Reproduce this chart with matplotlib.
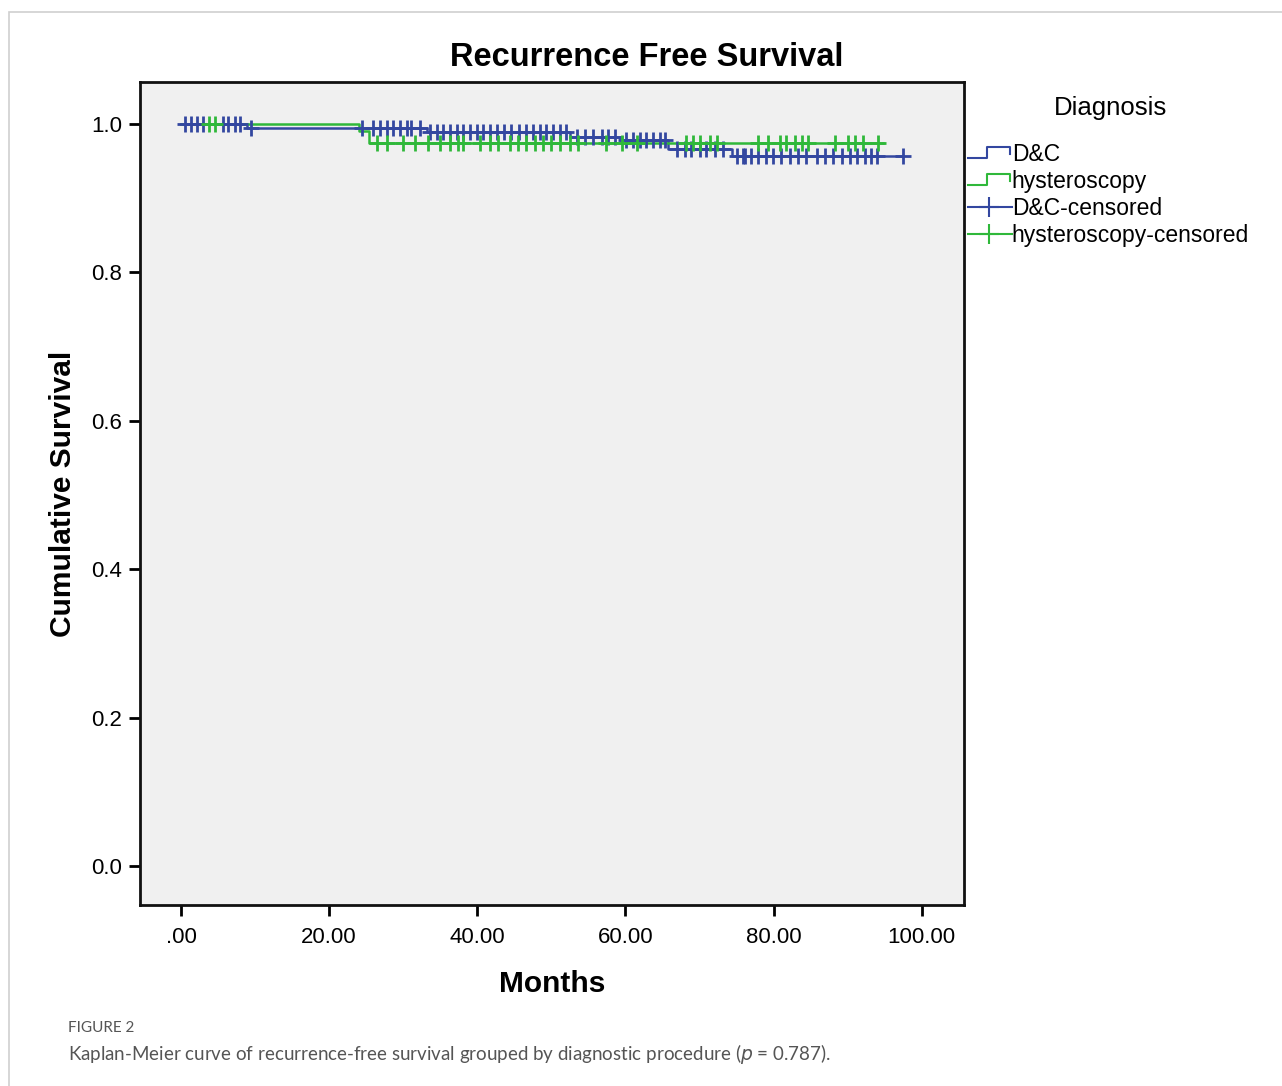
import numpy as np
import matplotlib
matplotlib.use("Agg")
import matplotlib.pyplot as plt
from matplotlib.lines import Line2D
from matplotlib.legend_handler import HandlerBase
from matplotlib.patches import Rectangle

plt.rcParams["font.family"] = ["Liberation Sans", "DejaVu Sans"]

# ---- Kaplan-Meier data (months, cumulative survival) ----
groups = ["D&C", "hysteroscopy"]

dc_event_times = [8.9, 33.2, 52.5, 59.2, 65.7, 74.4]
dc_event_surv = [0.995, 0.989, 0.983, 0.978, 0.967, 0.957]
dc_end = 97.5
dc_censored = [0.5, 1.3, 2.1, 3.0, 5.7, 6.3, 7.3, 8.0, 9.4,
               24.4, 25.9, 26.9, 27.8, 28.6, 29.6, 30.5, 31.1, 32.3,
               33.6, 34.5, 35.4, 36.3, 37.2, 38.1, 39.0, 39.9, 40.8, 41.7,
               42.6, 43.6, 44.6, 45.6, 46.6, 47.5, 48.4, 49.3, 50.2, 51.1, 52.0,
               53.4, 54.5, 55.6, 56.8, 57.7, 58.6,
               60.1, 61.0, 61.9, 62.8, 63.7, 64.6, 65.3,
               66.9, 68.0, 68.9, 70.0, 70.9, 72.1, 73.2,
               75.0, 75.9, 76.1, 77.0, 77.9, 79.0, 79.9, 81.0, 82.2, 83.3, 84.4,
               85.8, 86.9, 88.0, 89.2, 90.3, 91.2, 92.3, 93.2, 93.9, 97.5]

hy_event_times = [24.0, 25.4]
hy_event_surv = [0.990, 0.975]
hy_end = 94.7
hy_censored = [3.8, 4.6,
               26.4, 27.8, 30.0, 31.6, 33.4, 35.0, 36.3, 37.4, 38.1, 40.4,
               41.7, 42.8, 44.4, 45.5, 46.6, 47.8, 48.9, 50.0, 51.1, 52.5,
               53.6, 57.4, 59.5, 61.5, 68.2, 69.1, 70.0, 71.4, 72.3,
               77.9, 79.2, 80.8, 81.7, 82.9, 83.8, 84.6, 88.3, 90.1, 91.0,
               92.1, 94.1]

x_ticks = [0, 20, 40, 60, 80, 100]
x_ticklabels = [".00", "20.00", "40.00", "60.00", "80.00", "100.00"]
y_ticks = [0.0, 0.2, 0.4, 0.6, 0.8, 1.0]

blue = "#3347a0"
green = "#2fb83a"


def step_curve(event_times, event_surv, end):
    xs = [0.0] + list(event_times) + [end]
    ys = [1.0] + list(event_surv) + [event_surv[-1]]
    return np.array(xs), np.array(ys)


def surv_at(t, event_times, event_surv):
    s = 1.0
    for et, es in zip(event_times, event_surv):
        if t >= et:
            s = es
    return s


fig = plt.figure(figsize=(12.82, 10.86), dpi=100)
fig.patch.set_facecolor("white")

# panel border
fig.add_artist(Rectangle((9 / 1282, -0.1), 1.2, 1 - 12 / 1086 + 0.1,
                         transform=fig.transFigure, fill=False,
                         edgecolor="#cfcfcf", lw=1.2))

ax = fig.add_axes([140 / 1282, (1086 - 905) / 1086, 824 / 1282, 823 / 1086])
ax.set_facecolor("#f0f0f0")

series = [
    (dc_event_times, dc_event_surv, dc_end, dc_censored, blue),
    (hy_event_times, hy_event_surv, hy_end, hy_censored, green),
]
for et, es, end, cens, col in series:
    xs, ys = step_curve(et, es, end)
    ax.step(xs, ys, where="post", color=col, lw=1.8, zorder=3)
    cy = [surv_at(t, et, es) for t in cens]
    ax.plot(cens, cy, linestyle="none", marker="+", color=col,
            markersize=12, markeredgewidth=2.0, zorder=4)

ax.set_xlim(-5.54, 105.7)
ax.set_ylim(-0.0526, 1.0567)
ax.set_xticks(x_ticks)
ax.set_xticklabels(x_ticklabels)
ax.set_yticks(y_ticks)
ax.set_yticklabels([f"{v:.1f}" for v in y_ticks])
ax.tick_params(axis="both", direction="out", length=8, width=2,
               color="black", labelsize=16)
ax.tick_params(axis="x", pad=8)
ax.tick_params(axis="y", pad=5)
for sp in ax.spines.values():
    sp.set_linewidth(2)
    sp.set_color("#111111")

ax.set_xlabel("Months", fontsize=21.5, fontweight="bold", labelpad=16)
ax.set_ylabel("Cumulative Survival", fontsize=21.5, fontweight="bold", labelpad=10)

fig.text(647 / 1282, 1 - 58 / 1086, "Recurrence Free Survival", fontsize=23.5,
         fontweight="bold", ha="center", va="center")


class StepHandler(HandlerBase):
    def create_artists(self, legend, orig_handle, xdescent, ydescent,
                       width, height, fontsize, trans):
        w, h = width, height
        x = np.array([0.05 * w, 0.45 * w, 0.45 * w, 0.95 * w, 0.95 * w]) - xdescent
        y = np.array([0.2 * h, 0.2 * h, 0.85 * h, 0.85 * h, 0.45 * h]) - ydescent
        ln = Line2D(x, y, color=orig_handle.get_color(), lw=1.5)
        ln.set_transform(trans)
        return [ln]


class CensorHandler(HandlerBase):
    def create_artists(self, legend, orig_handle, xdescent, ydescent,
                       width, height, fontsize, trans):
        w, h = width, height
        ln = Line2D(np.array([0.05 * w, w]) - xdescent,
                    np.array([0.5 * h, 0.5 * h]) - ydescent,
                    color=orig_handle.get_color(), lw=1.5)
        mk = Line2D([0.5 * w - xdescent], [0.5 * h - ydescent],
                    marker="+", linestyle="none", markersize=15,
                    markeredgewidth=1.5, color=orig_handle.get_color())
        ln.set_transform(trans)
        mk.set_transform(trans)
        return [ln, mk]


h_dc = Line2D([], [], color=blue)
h_hy = Line2D([], [], color=green)
h_dcc = Line2D([], [], color=blue, marker="+")
h_hyc = Line2D([], [], color=green, marker="+")

leg = fig.legend([h_dc, h_hy, h_dcc, h_hyc],
                 [groups[0], groups[1], groups[0] + "-censored", groups[1] + "-censored"],
                 handler_map={h_dc: StepHandler(), h_hy: StepHandler(),
                              h_dcc: CensorHandler(), h_hyc: CensorHandler()},
                 loc="upper left", bbox_to_anchor=(966 / 1282, 1 - 143 / 1086),
                 frameon=False, fontsize=16.5, handlelength=2.0,
                 handletextpad=0.0, labelspacing=0.18, borderpad=0.0,
                 borderaxespad=0.0)

fig.text(1110 / 1282, 1 - 108 / 1086, "Diagnosis", fontsize=18.5,
         ha="center", va="center")

# caption
fig.text(68 / 1282, 1 - 1028 / 1086, "FIGURE 2", fontsize=11,
         family=["Lato", "DejaVu Sans"], color="#555555", va="center")
fig.text(68 / 1282, 1 - 1054 / 1086,
         r"Kaplan-Meier curve of recurrence-free survival grouped by diagnostic procedure ($\mathit{p}$ = 0.787).",
         fontsize=13.5, family=["Lato", "DejaVu Sans"], color="#555555", va="center")

fig.savefig("out.png", dpi=100, facecolor="white")
